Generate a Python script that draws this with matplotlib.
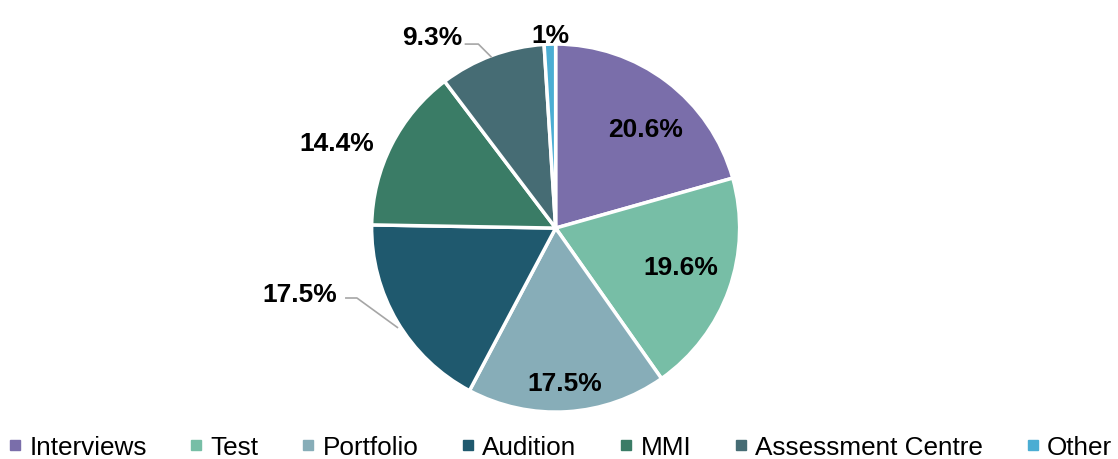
import numpy as np
import matplotlib.pyplot as plt
from matplotlib.lines import Line2D

plt.rcParams['font.family'] = ['Liberation Sans', 'DejaVu Sans']

categories = ['Interviews', 'Test', 'Portfolio', 'Audition', 'MMI',
              'Assessment Centre', 'Other']
shares = [20.6, 19.6, 17.5, 17.5, 14.4, 9.3, 1.0]
labels = ['20.6%', '19.6%', '17.5%', '17.5%', '14.4%', '9.3%', '1%']
colors = ['#7A6EAA', '#77BEA6', '#87ADB8', '#1F596E', '#3A7C66',
          '#466C74', '#4BADD3']

# label placement in pie units (radius = 1)
label_pos = [(0.49, 0.54), (0.68, -0.21), (0.05, -0.84), (-1.39, -0.36),
             (-1.19, 0.46), (-0.67, 1.04), (-0.03, 1.05)]
# leader lines for the two outside labels that use them
leaders = {3: [(-1.14, -0.38), (-1.08, -0.38), (-0.86, -0.54)],
           5: [(-0.49, 1.00), (-0.42, 1.00), (-0.35, 0.93)]}

fig = plt.figure(figsize=(11.18, 4.6), dpi=100)
ax = fig.add_axes([0.497 - 0.1646, 0.502 - 0.4, 0.3292, 0.8])
ax.pie(shares, colors=colors, startangle=90, counterclock=False,
       wedgeprops=dict(edgecolor='white', linewidth=2.5))
ax.set_xlim(-1, 1)
ax.set_ylim(-1, 1)
ax.set_aspect('equal')

for i, (x, y) in enumerate(label_pos):
    ax.text(x, y, labels[i], ha='center', va='center', fontsize=19,
            fontweight='bold', color='black', clip_on=False)

for pts in leaders.values():
    xs, ys = zip(*pts)
    ax.plot(xs, ys, color='#A6A6A6', lw=1.2, clip_on=False)

handles = [Line2D([], [], marker='s', ls='', color=c, markersize=6.5)
           for c in colors]
fig.legend(handles, categories, loc='lower center', ncol=7, frameon=False,
           fontsize=18.8, handletextpad=0.2, columnspacing=1.55,
           handlelength=0.7, borderpad=0, borderaxespad=0,
           bbox_to_anchor=(0.5, 0.0))

fig.savefig('out.png', dpi=100)
